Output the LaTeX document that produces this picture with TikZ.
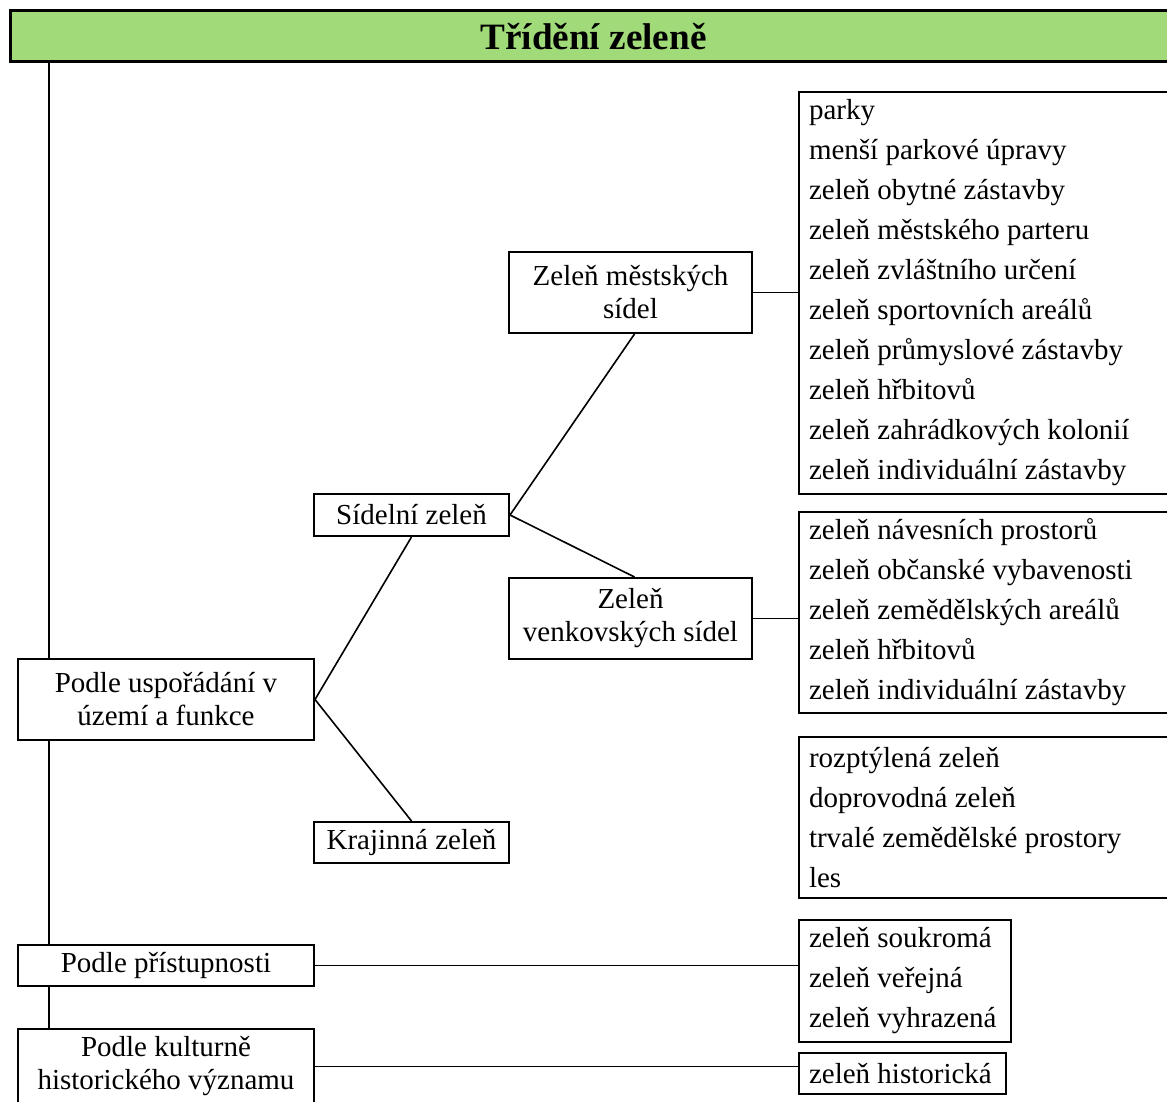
\documentclass[tikz,border=0pt]{standalone}
\usepackage{fontspec}
\setmainfont{Liberation Serif}
\usepackage{tikz}
\usetikzlibrary{positioning}
\definecolor{titlegreen}{RGB}{161,218,120}
\tikzset{box/.style = {draw, line width=1pt, inner sep=0pt, align=center,
                       font=\fontsize{14.5}{16.5}\selectfont}}
\tikzset{listbox/.style = {draw, line width=1pt, inner xsep=5pt, inner ysep=0pt,
                           align=flush left, anchor=west,
                           font=\fontsize{14.5}{20}\selectfont}}
\tikzset{link/.style = {line width=0.8pt}}

\begin{document}
\begin{tikzpicture}[x=0.5pt, y=-0.5pt]
	\useasboundingbox (0,0) rectangle (1167,1102);
	\node [draw, line width=1.5pt, fill=titlegreen, anchor=west, minimum width=583pt,
		minimum height=25.5pt, font=\fontsize{18.6}{20}\selectfont\bfseries] (title)
		at (9,36.5) {Třídění zeleně};
	\node [box, minimum width=148pt, minimum height=40.5pt] (usporadani) at (166,699.5)
		{Podle uspořádání v\\území a funkce};
	\node [box, minimum width=97.5pt, minimum height=21pt] (sidelni) at (411.5,515)
		{Sídelní zeleň};
	\node [box, minimum width=97.5pt, minimum height=20.5pt] (krajinna) at (411.5,842.5)
		{Krajinná zeleň};
	\node [box, minimum width=121.5pt, minimum height=40.5pt] (mestske) at (630.5,292.5)
		{Zeleň městských\\sídel};
	\node [box, minimum width=121.5pt, minimum height=40.5pt] (venkovske) at (630.5,618.5)
		{Zeleň\\venkovských sídel};
	\node [box, minimum width=148pt, minimum height=20.5pt] (pristupnost) at (166,965.5)
		{Podle přístupnosti};
	\node [box, minimum width=148pt, minimum height=38pt] (kulturni) at (166,1066.5)
		{Podle kulturně\\historického významu};
	\node [listbox, text width=177pt, minimum height=201pt] (mestskelist) at (798,293)
		{parky\\menší parkové úpravy\\zeleň obytné zástavby\\zeleň městského parteru\\
		zeleň zvláštního určení\\zeleň sportovních areálů\\zeleň průmyslové zástavby\\
		zeleň hřbitovů\\zeleň zahrádkových kolonií\\zeleň individuální zástavby};
	\node [listbox, text width=177pt, minimum height=100.5pt] (venkovskelist) at (798,612.5)
		{zeleň návesních prostorů\\zeleň občanské vybavenosti\\zeleň zemědělských areálů\\
		zeleň hřbitovů\\zeleň individuální zástavby};
	\node [listbox, text width=177pt, minimum height=80.5pt] (krajinnalist) at (798,817.5)
		{rozptýlená zeleň\\doprovodná zeleň\\trvalé zemědělské prostory\\les};
	\node [listbox, text width=96pt, minimum height=61pt] (pristupnostlist) at (798,981)
		{zeleň soukromá\\zeleň veřejná\\zeleň vyhrazená};
	\node [listbox, text width=93.5pt, minimum height=20.5pt] (kulturnilist) at (798,1073.5)
		{zeleň historická};
	\coordinate (trunk) at (49,62);
	\draw [link] (trunk) -- (trunk |- usporadani.north);
	\draw [link] (trunk |- usporadani.south) -- (trunk |- pristupnost.north);
	\draw [link] (trunk |- pristupnost.south) -- (trunk |- kulturni.north);
	\draw [link] (usporadani.east) -- (sidelni.south);
	\draw [link] (usporadani.east) -- (krajinna.north);
	\draw [link] (sidelni.east) -- ([xshift=2pt]mestske.south);
	\draw [link] (sidelni.east) -- ([xshift=2pt]venkovske.north);
	\draw [link] (mestske.east) -- (mestske.east -| mestskelist.west);
	\draw [link] (venkovske.east) -- (venkovske.east -| venkovskelist.west);
	\draw [link] (pristupnost.east) -- (pristupnost.east -| pristupnostlist.west);
	\draw [link] (kulturni.east) -- (kulturni.east -| kulturnilist.west);
\end{tikzpicture}
\end{document}
